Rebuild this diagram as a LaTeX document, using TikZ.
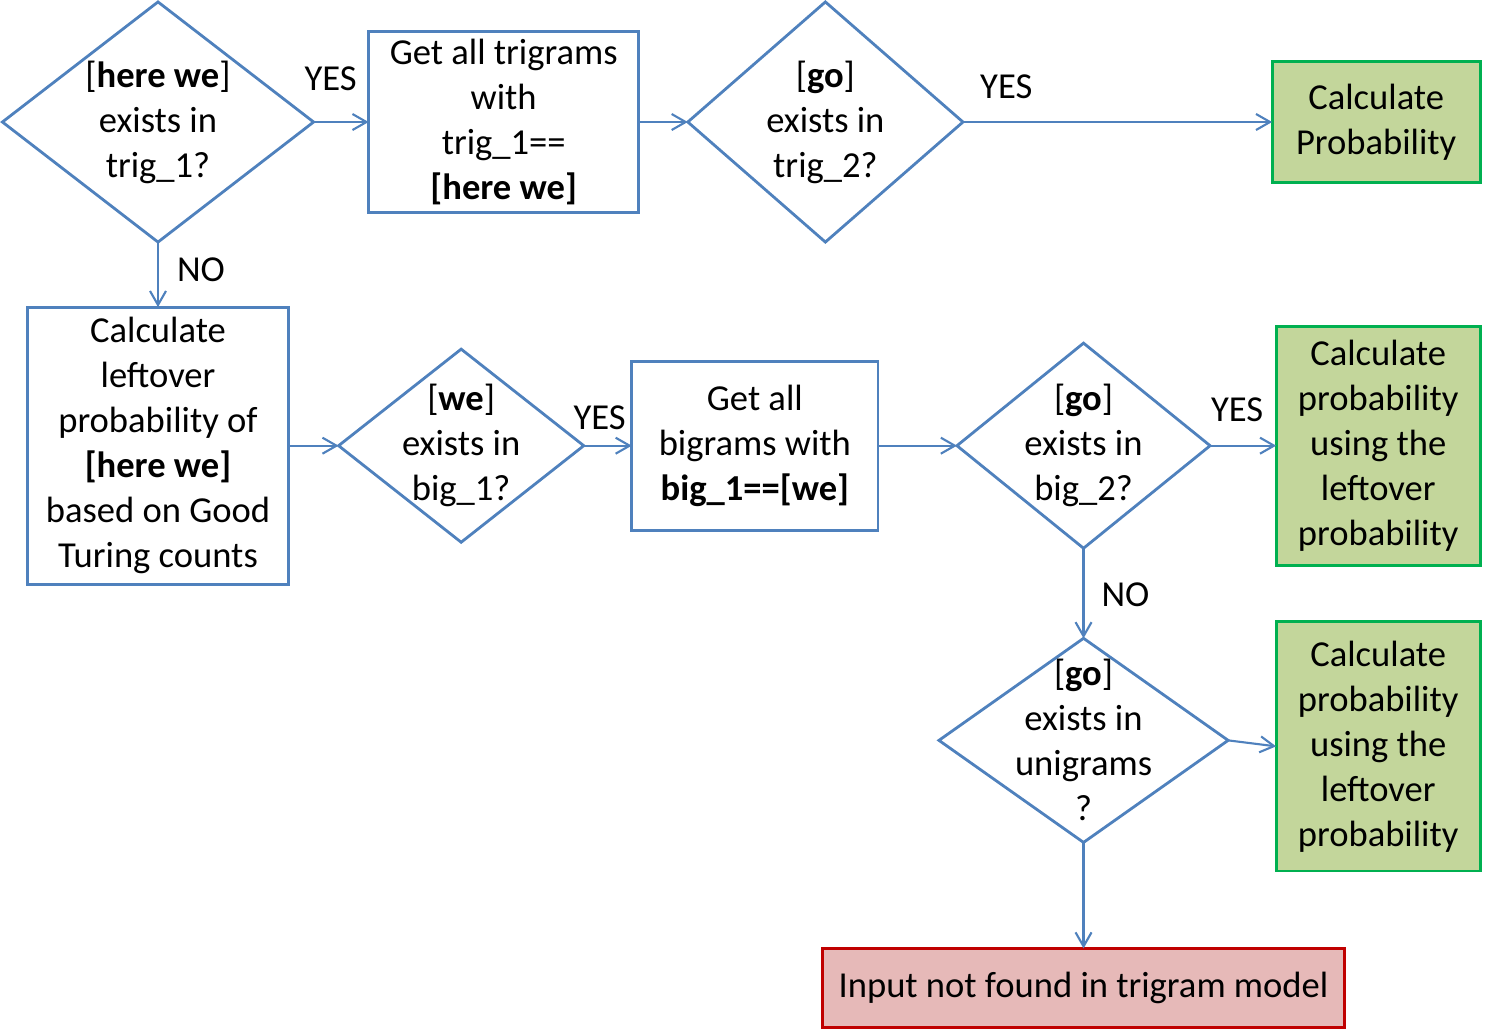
\documentclass[tikz,border=0pt]{standalone}
\usepackage{fontspec}
\setmainfont{Carlito}
\usepackage{tikz}
\usetikzlibrary{arrows.meta,positioning,shapes.geometric}
\definecolor{flowblue}{RGB}{79,129,189}
\definecolor{okgreen}{RGB}{0,176,80}
\definecolor{okfill}{RGB}{195,214,155}
\definecolor{badred}{RGB}{192,0,0}
\definecolor{badfill}{RGB}{230,185,184}

\begin{document}
\begin{tikzpicture}
	[ x=0.01cm, y=-0.01cm,
		font=\fontsize{10.4}{12.8}\selectfont,
		decision/.style={diamond,draw=flowblue,thick,inner sep=-30pt,outer sep=0pt,align=center},
		process/.style={rectangle,draw=flowblue,thick,inner sep=0pt,outer sep=0pt,align=center},
		result/.style={rectangle,draw=okgreen,fill=okfill,thick,inner sep=0pt,outer sep=0pt,align=center},
		failure/.style={rectangle,draw=badred,fill=badfill,thick,inner sep=0pt,outer sep=0pt,align=center},
		answer/.style={inner sep=0pt},
		arrowOut/.style={->,>={Straight Barb[length=1.4mm,width=1.6mm]},semithick,draw=flowblue}]
	
	\useasboundingbox (0,0) rectangle (1490,1033);
	
	\node[decision,minimum width=3.11cm,minimum height=2.4cm] (trig1 test) at (158,122) {[\textbf{here we}]\\exists in\\trig\_1?};
	\node[process,minimum width=2.7cm,minimum height=1.81cm] (get trigrams) [right=5.5mm of trig1 test] {Get all trigrams\\with\\trig\_1==\\\textbf{[here we]}};
	\node[decision,minimum width=2.75cm,minimum height=2.4cm] (trig2 test) [right=4.9mm of get trigrams] {[\textbf{go}]\\exists in\\trig\_2?};
	\node[result,minimum width=2.08cm,minimum height=1.21cm] (calc prob) [right=30.9mm of trig2 test] {Calculate\\Probability};
	
	\node[process,minimum width=2.61cm,minimum height=2.77cm] (leftover) [below=6.5mm of trig1 test] {Calculate\\leftover\\probability of\\\textbf{[here we]}\\based on Good\\Turing counts};
	\node[decision,minimum width=2.45cm,minimum height=1.93cm] (big1 test) [right=5mm of leftover] {[\textbf{we}]\\exists in\\big\_1?};
	\node[process,minimum width=2.46cm,minimum height=1.69cm] (get bigrams) [right=4.8mm of big1 test] {Get all\\bigrams with\\\textbf{big\_1==[we]}};
	\node[decision,minimum width=2.53cm,minimum height=2.05cm] (big2 test) [right=7.9mm of get bigrams] {[\textbf{go}]\\exists in\\big\_2?};
	\node[result,minimum width=2.04cm,minimum height=2.39cm] (calc bigram) [right=6.6mm of big2 test] {Calculate\\probability\\using the\\leftover\\probability};
	
	\node[decision,minimum width=2.89cm,minimum height=2.04cm] (uni test) [below=9mm of big2 test] {[\textbf{go}]\\exists in\\unigrams\\?};
	\node[result,minimum width=2.04cm,minimum height=2.49cm] (calc unigram) [right=4.8mm of uni test,yshift=-0.6mm] {Calculate\\probability\\using the\\leftover\\probability};
	\node[failure,minimum width=5.21cm,minimum height=0.79cm] (not found) [below=10.6mm of uni test] {Input not found in trigram model};
	
	\draw[arrowOut] (trig1 test) -- node[answer,pos=0.31,above=3mm] {YES} (get trigrams);
	\draw[arrowOut] (get trigrams) -- (trig2 test);
	\draw[arrowOut] (trig2 test) -- node[answer,pos=0.14,above=2.2mm] {YES} (calc prob);
	\draw[arrowOut] (trig1 test) -- node[answer,pos=0.43,right=1.8mm] {NO} (leftover);
	\draw[arrowOut] (leftover) -- (big1 test);
	\draw[arrowOut] (big1 test) -- node[answer,pos=0.33,above=1.5mm] {YES} (get bigrams);
	\draw[arrowOut] (get bigrams) -- (big2 test);
	\draw[arrowOut] (big2 test) -- node[answer,pos=0.41,above=2.3mm] {YES} (calc bigram);
	\draw[arrowOut] (big2 test) -- node[answer,pos=0.52,right=1.7mm] {NO} (uni test);
	\draw[arrowOut] (uni test.east) -- (calc unigram.west);
	\draw[arrowOut] (uni test) -- (not found);
\end{tikzpicture}
\end{document}
